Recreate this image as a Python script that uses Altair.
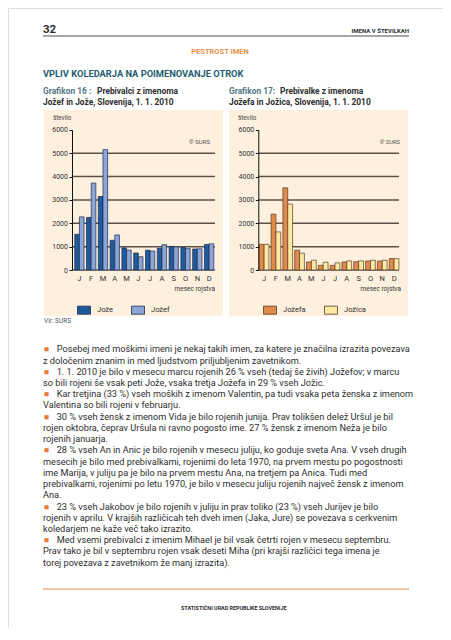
import altair as alt
import pandas as pd

# ---------------- data ----------------
months = ["J", "F", "M", "A", "M", "J", "J", "A", "S", "O", "N", "D"]
series_m = ["Jože", "Jožef"]
joze = [1527, 2250, 3145, 1270, 945, 730, 850, 930, 1008, 966, 900, 1094]
jozef = [2273, 3720, 5150, 1500, 852, 568, 810, 1087, 988, 916, 910, 1122]
series_f = ["Jožefa", "Jožica"]
jozefa = [1100, 2390, 3515, 850, 345, 200, 200, 345, 355, 385, 385, 490]
jozica = [1095, 1630, 2820, 720, 420, 335, 305, 390, 390, 415, 420, 485]
y_ticks = [0, 1000, 2000, 3000, 4000, 5000, 6000]

paragraphs = [
    ["Posebej med moškimi imeni je nekaj takih imen, za katere je značilna izrazita povezava",
     "z določenim znanim in med ljudstvom priljubljenim zavetnikom."],
    ["1. 1. 2010 je bilo v mesecu marcu rojenih 26 % vseh (tedaj še živih) Jožefov; v marcu",
     "so bili rojeni še vsak peti Jože, vsaka tretja Jožefa in 29 % vseh Jožic."],
    ["Kar tretjina (33 %) vseh moških z imenom Valentin, pa tudi vsaka peta ženska z imenom",
     "Valentina so bili rojeni v februarju."],
    ["30 % vseh žensk z imenom Vida je bilo rojenih junija. Prav tolikšen delež Uršul je bil",
     "rojen oktobra, čeprav Uršula ni ravno pogosto ime. 27 % žensk z imenom Neža je bilo",
     "rojenih januarja."],
    ["28 % vseh An in Anic je bilo rojenih v mesecu juliju, ko goduje sveta Ana. V vseh drugih",
     "mesecih je bilo med prebivalkami, rojenimi do leta 1970, na prvem mestu po pogostnosti",
     "ime Marija, v juliju pa je bilo na prvem mestu Ana, na tretjem pa Anica. Tudi med",
     "prebivalkami, rojenimi po letu 1970, je bilo v mesecu juliju rojenih največ žensk z imenom",
     "Ana."],
    ["23 % vseh Jakobov je bilo rojenih v juliju in prav toliko (23 %) vseh Jurijev je bilo",
     "rojenih v aprilu. V krajših različicah teh dveh imen (Jaka, Jure) se povezava s cerkvenim",
     "koledarjem ne kaže več tako izrazito."],
    ["Med vsemi prebivalci z imenim Mihael je bil vsak četrti rojen v mesecu septembru.",
     "Prav tako je bil v septembru rojen vsak deseti Miha (pri krajši različici tega imena je",
     "torej povezava z zavetnikom že manj izrazita)."],
]

# ---------------- layout / style ----------------
W, H = 435, 620
M = 8  # page margin
FONT = "Roboto"
HFONT = "Liberation Sans Narrow, Roboto"
INK = "#2e2e2e"
BEIGE = "#fdf0de"


def P(v):
    return v - M


base = alt.Chart()


def text(s, x, y, size, color=INK, weight="normal", align="left", style="normal", font=FONT):
    return base.mark_text(fontSize=size, color=color, fontWeight=weight, align=align,
                          baseline="middle", font=font, fontStyle=style).encode(
        x=alt.value(P(x)), y=alt.value(P(y)), text=alt.value(s))


def hrule(x1, x2, y, color, width):
    return base.mark_rule(color=color, strokeWidth=width).encode(
        x=alt.value(P(x1)), x2=alt.value(P(x2)), y=alt.value(P(y)))


def box(x1, x2, y1, y2, color):
    return base.mark_rect(color=color).encode(
        x=alt.value(P(x1)), x2=alt.value(P(x2)), y=alt.value(P(y1)), y2=alt.value(P(y2)))


label_expr = "[" + ",".join("'%s'" % m for m in months) + "][datum.value - 1]"


def yscale():
    return alt.Scale(domain=[0, 6000], range=[P(270), P(129.8)], nice=False)


def gridlines(axis_x, grid_end):
    gdf = pd.DataFrame({"v": y_ticks[:-1]})
    return alt.Chart(gdf).mark_rule().encode(
        y=alt.Y("v:Q", scale=yscale(), axis=None),
        x=alt.value(P(axis_x)), x2=alt.value(P(grid_end)),
        color=alt.condition(alt.datum.v == 0, alt.value("#111111"), alt.value("#5c5249")),
        strokeWidth=alt.condition(alt.datum.v == 0, alt.value(1.1), alt.value(1.5)),
    )


def bars(series, vals_a, vals_b, colors, stroke, axis_x, band_x, pad_in, legend_x):
    df = pd.DataFrame({
        "mi": list(range(1, 13)) * 2,
        "s": [series[0]] * 12 + [series[1]] * 12,
        "v": vals_a + vals_b,
    })
    return alt.Chart(df).mark_bar(stroke=stroke, strokeWidth=0.7).encode(
        x=alt.X("mi:O", title=None,
                scale=alt.Scale(domain=list(range(1, 13)), range=[P(band_x[0]), P(band_x[1])],
                                paddingInner=pad_in, paddingOuter=pad_in / 2),
                axis=alt.Axis(orient="bottom", offset=P(270) - H, labelExpr=label_expr,
                              ticks=False, domain=False, grid=False, labelPadding=4,
                              labelFontSize=7.5, labelColor="#333333", labelFont=FONT,
                              labelAngle=0, zindex=2)),
        xOffset=alt.XOffset("s:N", scale=alt.Scale(domain=series)),
        y=alt.Y("v:Q", title=None, scale=yscale(),
                axis=alt.Axis(orient="left", offset=-P(axis_x), values=y_ticks, format="d",
                              tickSize=3, tickColor="#111111", domainColor="#111111",
                              labelPadding=1.5, labelFontSize=7, labelColor="#333333",
                              labelFont=FONT, grid=False, zindex=2)),
        color=alt.Color("s:N", scale=alt.Scale(domain=series, range=colors),
                        legend=alt.Legend(orient="none", legendX=P(legend_x), legendY=P(303),
                                          direction="horizontal", title=None,
                                          symbolType="M-1,-0.62H1V0.62H-1Z", symbolSize=169,
                                          symbolStrokeColor=stroke, symbolStrokeWidth=0.8,
                                          symbolOpacity=1, labelFontSize=7.5, labelColor="#333333",
                                          labelFont=FONT, labelOffset=6, columnPadding=16,
                                          padding=0, zindex=2)),
    )


layers = [
    # page header
    text("32", 43, 30, 11.5, weight="bold"),
    text("IMENA V ŠTEVILKAH", 409, 31, 6, weight="bold", align="right"),
    hrule(43, 409, 36, "#8a8a8a", 1.7),
    text("PESTROST IMEN", 220, 52, 7.5, color="#e8914a", weight="bold", align="center"),
    text("VPLIV KOLEDARJA NA POIMENOVANJE OTROK", 43, 74, 9.3, color="#1e5e70", weight="bold",
         font=HFONT),
    text("Grafikon 16 :", 43, 91, 8.4, color="#557684", weight="bold"),
    text("Prebivalci z imenoma", 97, 91, 8.4, weight="bold"),
    text("Jožef in Jože, Slovenija, 1. 1. 2010", 43, 101.5, 8.4, weight="bold"),
    text("Grafikon 17:", 229, 91, 8.4, color="#557684", weight="bold"),
    text("Prebivalke z imenoma", 280, 91, 8.4, weight="bold"),
    text("Jožefa in Jožica, Slovenija, 1. 1. 2010", 229, 101.5, 8.4, weight="bold"),
    # chart panels background
    box(44, 223, 110, 316, BEIGE),
    box(229, 408, 110, 316, BEIGE),
    text("število", 53, 118, 6.3, color="#444444"),
    text("število", 238, 118, 6.3, color="#444444"),
    text("© SURS", 210, 142, 6, color="#555555", align="right"),
    text("© SURS", 400, 142, 6, color="#555555", align="right", style="italic"),
    text("mesec rojstva", 215, 289, 6.5, color="#333333", align="right"),
    text("mesec rojstva", 401, 289, 6.5, color="#333333", align="right"),
    text("Vir: SURS", 44, 321, 6.5, color="#555555"),
    gridlines(72, 215),
    bars(series_m, joze, jozef, ["#1f5b9c", "#8ca5d7"], "#1d2b4f", 72, (73.5, 215), 0.21, 77),
    gridlines(258.3, 399),
    bars(series_f, jozefa, jozica, ["#e08a4c", "#fce9a4"], "#5b3a1f", 258.3, (258.2, 400), 0.18, 263),
]

# body text
LINE0, LH = 349.3, 11.23
i = 0
for para in paragraphs:
    for j, line in enumerate(para):
        y = LINE0 + LH * i
        if j == 0:
            layers.append(text("■", 46.2, y, 8.5, color="#e07d3c", align="center"))
            layers.append(text(line, 56.7, y, 9.2))
        else:
            layers.append(text(line, 43, y, 9.2))
        i += 1

# footer
layers.append(hrule(43, 409, 589, "#f3b27c", 1.6))
layers.append(text("STATISTIČNI URAD REPUBLIKE SLOVENIJE", 181, 608, 5.4, weight="bold"))

chart = alt.layer(*layers, data=alt.Data(values=[{}])).resolve_scale(
    x="independent", y="independent", color="independent", xOffset="independent"
).properties(
    width=W, height=H, padding=0, autosize=alt.AutoSizeParams(type="none")
).configure_view(stroke=None).configure(background="white")

chart.save("out.html", embed_options={"renderer": "svg", "actions": False})
